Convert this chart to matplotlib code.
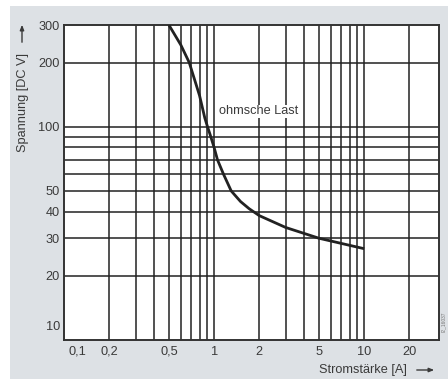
import matplotlib
matplotlib.use("Agg")
import matplotlib.pyplot as plt
import matplotlib.transforms as mtransforms
from matplotlib.patches import Rectangle, FancyArrowPatch

# ── Data ──────────────────────────────────────────────────────────────────────
current_a = [0.5, 0.6, 0.683, 0.8, 0.867, 0.904, 0.94, 1.0, 1.053, 1.154, 1.3, 1.5,
             1.71, 2, 3, 5, 7, 10]
voltage_v = [300, 242, 200, 140, 110, 100, 92, 80, 70, 60, 50, 44.6,
             41.3, 38.3, 33.7, 30, 28.4, 26.8]

x_grid = [0.2, 0.3, 0.4, 0.5, 0.6, 0.7, 0.8, 0.9, 1, 2, 3, 4, 5, 6, 7, 8, 9, 10, 20]
y_grid = [20, 30, 40, 50, 60, 70, 80, 90, 100, 200]
x_ticks = [0.1, 0.2, 0.5, 1, 2, 5, 10, 20]
x_labels = ["0,1", "0,2", "0,5", "1", "2", "5", "10", "20"]
y_ticks = [10, 20, 30, 40, 50, 100, 200, 300]
y_labels = ["10", "20", "30", "40", "50", "100", "200", "300"]

BG = "#dde1e5"
INK = "#222222"
TXT = "#3a3a3a"
FS = 9.2

plt.rcParams["font.family"] = ["Liberation Sans", "DejaVu Sans"]

fig = plt.figure(figsize=(4.48, 3.80), dpi=100)
fig.patches.append(Rectangle((10/448, 0.003), 1, (380-7)/380, transform=fig.transFigure,
                             facecolor=BG, edgecolor="none", zorder=-10))
ax = fig.add_axes([64/448, 40/380, 375/448, 315/380])
ax.set_facecolor("white")
ax.set_xscale("log"); ax.set_yscale("log")
ax.set_xlim(0.102, 31.5)
ax.set_ylim(10.2, 300)

for v in x_grid:
    ax.axvline(v, color=INK, lw=1.1, zorder=1)
for v in y_grid:
    ax.axhline(v, color=INK, lw=1.1, zorder=1)

ax.plot(current_a, voltage_v, color=INK, lw=2.0, zorder=3,
        solid_capstyle="butt", solid_joinstyle="round")
ax.text(1.07, 118, "ohmsche Last", fontsize=FS, color=TXT, va="center", ha="left",
        zorder=4, bbox=dict(facecolor="white", edgecolor="none", pad=0.5))

ax.minorticks_off()
ax.set_xticks(x_ticks); ax.set_xticklabels(x_labels)
ax.set_yticks(y_ticks); ax.set_yticklabels(y_labels)
ax.tick_params(length=0, labelsize=FS, labelcolor=TXT)
ax.tick_params(axis="x", pad=4)
ax.tick_params(axis="y", pad=3)
for s in ax.spines.values():
    s.set_color("#333333"); s.set_linewidth(1.4)

# first labels are nudged inside, as in the printed chart
lx = ax.get_xticklabels()[0]
lx.set_transform(lx.get_transform() + mtransforms.ScaledTranslation(13/100, 0, fig.dpi_scale_trans))
ly = ax.get_yticklabels()[0]
ly.set_transform(ly.get_transform() + mtransforms.ScaledTranslation(0, 15/100, fig.dpi_scale_trans))

# axis titles with arrows
fig.text(407/448, 1 - 370/380, "Stromstärke [A]", fontsize=FS, color=TXT, ha="right", va="center")
fig.add_artist(FancyArrowPatch((414/448, 1 - 370/380), (437/448, 1 - 370/380),
               transform=fig.transFigure, arrowstyle="-|>,head_length=3,head_width=1.2",
               color=TXT, lw=1.0, mutation_scale=1))
fig.text(23/448, 1 - 102/380, "Spannung [DC V]", fontsize=FS, color=TXT, rotation=90,
         ha="center", va="center")
fig.add_artist(FancyArrowPatch((22/448, 1 - 45/380), (22/448, 1 - 22/380),
               transform=fig.transFigure, arrowstyle="-|>,head_length=3,head_width=1.2",
               color=TXT, lw=1.0, mutation_scale=1))
fig.text(443/448, 1 - 322/380, "I2_16037", fontsize=3.5, color="#777777", rotation=90,
         ha="center", va="center")

fig.savefig("out.png", dpi=100, facecolor="white")
